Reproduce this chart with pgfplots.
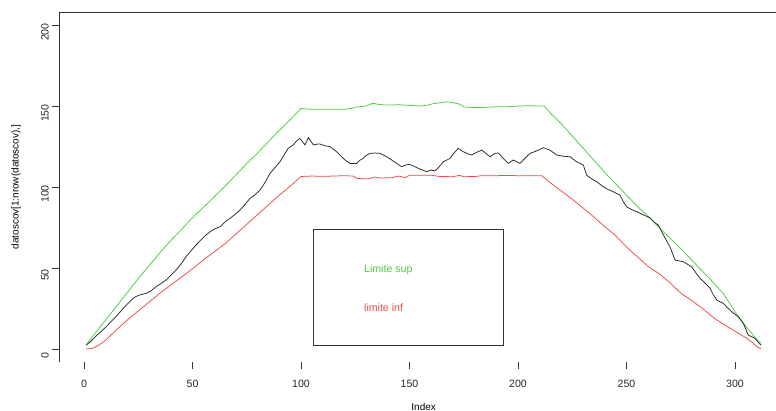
\documentclass[border=0pt]{standalone}
\usepackage{fontspec}
\setmainfont{Liberation Sans}
\usepackage{pgfplots}
\pgfplotsset{compat=1.18}
\definecolor{rgreen}{HTML}{4CCC40}
\definecolor{rred}{HTML}{F04848}
\newcommand{\rfont}{\fontsize{10.6bp}{12.7bp}\selectfont}
\begin{document}
\begin{tikzpicture}
\useasboundingbox (-59.2bp,-49bp) rectangle (716.8bp,362bp);
\begin{axis}[
  at={(0,0)}, anchor=south west,
  scale only axis,
  width=716.8bp, height=349.9bp,
  xmin=-11.44, xmax=318.89,
  ymin=-8, ymax=208,
  axis line style={draw=none},
  tick pos=left,
  tick align=outside,
  major tick length=7bp,
  tick style={black!80, line width=0.8bp},
  xtick={0,50,...,300},
  ytick={0,50,...,200},
  /pgf/number format/assume math mode=true,
  tick label style={font=\rfont, text=black!85},
  xticklabel style={yshift=-8bp},
  yticklabel style={rotate=90, anchor=south, xshift=-7bp},
  xlabel={Index},
  ylabel={datoscov[1:nrow(datoscov),]},
  label style={font=\rfont, text=black!85},
  every axis x label/.style={at={(rel axis cs:0.5084,0)}, anchor=center, yshift=-45bp},
  every axis y label/.style={at={(rel axis cs:-0.0603,0.5)}, anchor=center, rotate=90},
]
\draw[black!80, line width=0.8bp] (rel axis cs:1,0) -- (rel axis cs:0,0) -- (rel axis cs:0,1) -- (rel axis cs:1,1);
% upper limit
\addplot[rgreen, line width=0.75bp] coordinates {
(1,2.5)(5,9.5)(10,18)(15,26.5)(20,35)(25,43.5)(30,51.5)(35,59.5)(40,67)(45,74)
(50,81)(55,87.5)(60,94)(65,100.5)(70,107.5)(75,114.5)(80,121)(85,128)(90,135)(95,141.5)
(100,148.5)(105,148)(110,148)(115,148)(120,148)(123,148.5)(126,149.5)(130,150)(133,151.7)(136,151)
(140,150.6)(145,150.8)(150,150.4)(155,150)(158,150.5)(161,151.5)(164,152)(167,152.6)(170,152.2)(173,151.2)
(175,149.5)(180,149)(185,149.2)(190,149.6)(195,149.5)(200,150)(205,150.2)(210,150)(212,150)
(215,145.5)(220,139)(225,131.5)(230,124)(235,116.5)(240,109)(245,102)(250,95)(255,88)(260,82)
(265,75)(270,68.5)(275,62)(280,55)(285,48)(290,41)(295,33.5)(300,23)(305,14)(310,6)(312,3.5)
};
% lower limit
\addplot[rred, line width=0.75bp] coordinates {
(1,0)(4,0.5)(7,2.5)(10,5.5)(15,12)(20,18)(25,23.5)(30,29)(35,34.5)(40,39.5)
(45,44.5)(50,49.5)(55,55)(60,60)(65,65)(70,71)(75,77)(80,83)(85,89)(90,95)(95,100.5)
(100,106.5)(105,106.8)(110,106.6)(115,106.8)(120,107)(124,106.8)(126,105.3)(131,105)(134,106.2)(137,105.6)
(142,105.8)(145,106.8)(148,105.8)(150,107.3)(155,107.3)(160,107.3)(164,106.5)(170,106.4)(173,107.2)(175,106.4)
(180,106.5)(183,107)(190,107)(195,107.2)(200,107)(205,107)(211,107)
(215,102.5)(220,97.5)(225,92.5)(230,87)(235,81.5)(240,75.5)(245,70)(250,63)(255,57)(260,51)
(265,46.5)(270,41)(275,34.5)(280,30)(285,25)(290,19.5)(295,15)(300,11)(305,7)(308,4)(310,1.5)(312,0)
};
% series
\addplot[black!85, line width=0.75bp] coordinates {
(1,2.5)(3,4.5)(5.5,8)(8,11)(10,13.5)(12.5,17)(14.7,20)(17,23.5)(19.4,27)(22,30.5)
(24,32.5)(26,33.5)(28.6,34.4)(31,36)(33.2,38.5)(35.5,40.5)(37.8,42.6)(40,45.5)(42.4,48.8)(45,53)
(47,57)(49.5,61)(51.6,64.2)(54,67.5)(56.2,70.4)(58.5,72.8)(60.8,74.5)(62.7,75.5)(65,78.6)(67.3,80.7)
(69.5,83)(71.9,85.8)(74,89)(76.5,93)(79,95.5)(81.1,98.1)(83.5,103)(85.7,108.4)(88,112)(90.3,115.6)
(92.5,120.5)(94.1,123.9)(96.4,126)(98,128.5)(99.5,130)(101,127.5)(101.8,126)(103.4,130.5)(105.7,126)(107.5,126.5)
(108.8,126.5)(111,125.5)(113.4,124.9)(116.4,121.8)(118.5,119)(120.3,116.7)(122.6,114.6)(125.7,114.6)(127,116.5)(128.7,117.7)
(130,119.5)(131.8,120.8)(134,121)(136.4,120.8)(139.5,118.7)(142,116.5)(144.1,114.6)(146.4,112.5)(148,113.5)(149.5,114)
(151,113.5)(152.5,112.5)(155,111)(157.9,109.5)(160,110.5)(161.7,110)(163,111.5)(165.6,115.6)(168.7,117.7)(170.5,121)
(172.5,123.9)(174.8,121.8)(177,120.5)(178.7,119.8)(181,121.5)(183.3,122.8)(185,121)(187.1,118.7)(189.4,120.8)(191,121)
(193,118)(195.5,114.6)(197.8,116.7)(200.9,114.6)(203,117.5)(205.5,120.8)(208,122)(211.7,124.3)(214.7,122.8)(217.8,119.8)
(221,119)(224,118.7)(227,115.6)(230.1,113.6)(231.6,107.4)(234,105)(236.2,103.3)(239.3,100.2)(241.5,98.5)(243.9,97.1)
(247,95)(248.5,91)(250.1,87.8)(252.5,86)(254.7,84.8)(257.5,83)(260.8,81)(263,78)(264.7,76.5)(267,70.4)
(270,63.2)(272.4,54.9)(276.2,53.9)(280,50.8)(282,47)(283.9,43.6)(286,41)(288.5,37.5)(290,33.5)(291.6,30.2)
(294.6,28.2)(296.5,25.5)(298.5,23)(301.5,19.9)(303.8,15.9)(306.1,8.6)(309.2,6.6)(311.5,3)(312,2.5)
};
% legend box
\draw[black!80, line width=0.8bp] (axis cs:105.7,2.0) rectangle (axis cs:193.2,73.9);
\node[anchor=west, inner sep=0pt, text=rgreen, font=\rfont] at (axis cs:129.0,49.2) {Limite sup};
\node[anchor=west, inner sep=0pt, text=rred, font=\rfont] at (axis cs:129.0,25.5) {limite inf};
\end{axis}
\end{tikzpicture}
\end{document}
